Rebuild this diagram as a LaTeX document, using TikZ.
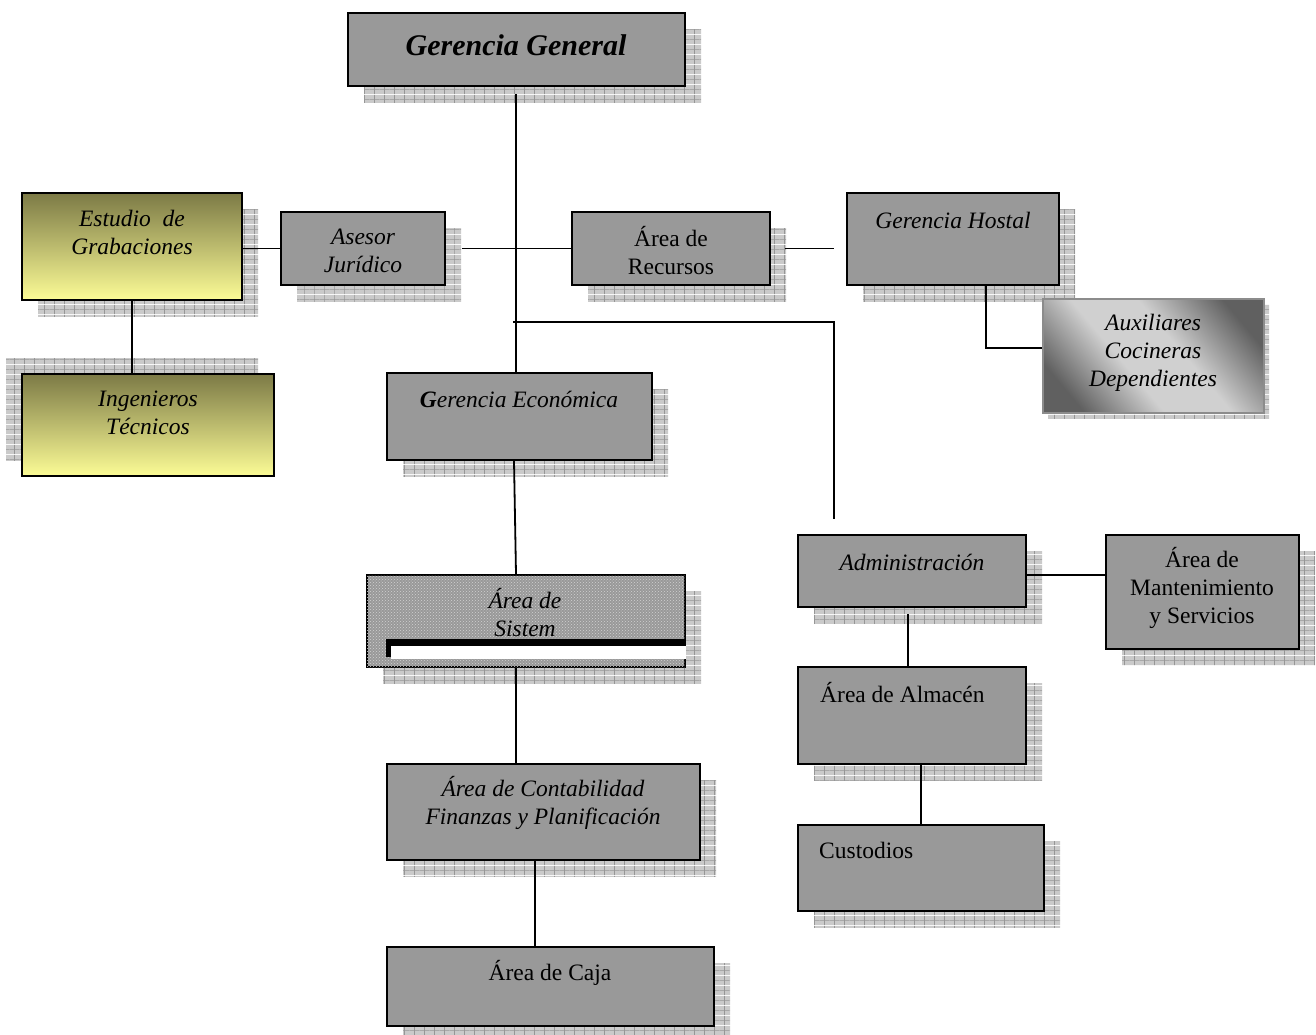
\documentclass[tikz,border=0pt]{standalone}
\usepackage{fontspec}
\setmainfont{Liberation Serif}
\usepackage{tikz}
\usetikzlibrary{calc,shadows,patterns}

\definecolor{boxgray}{RGB}{153,153,153}
\definecolor{shadowgray}{RGB}{202,202,202}
\definecolor{gridline}{RGB}{150,150,150}
\definecolor{olivetop}{RGB}{124,122,70}
\definecolor{yellowbot}{RGB}{252,252,150}
\definecolor{auxdark}{RGB}{96,96,96}
\definecolor{auxlight}{RGB}{208,208,208}

\pgfdeclarepatterninherentlycolored{shadowgrid}{\pgfpointorigin}{\pgfpoint{10pt}{10pt}}{\pgfpoint{10pt}{10pt}}{%
  \pgfsetfillcolor{shadowgray}%
  \pgfpathrectangle{\pgfpointorigin}{\pgfpoint{10pt}{10pt}}%
  \pgfusepath{fill}%
  \pgfsetstrokecolor{gridline}%
  \pgfsetlinewidth{0.7pt}%
  \pgfpathmoveto{\pgfpoint{0pt}{5pt}}\pgfpathlineto{\pgfpoint{10pt}{5pt}}%
  \pgfpathmoveto{\pgfpoint{5pt}{0pt}}\pgfpathlineto{\pgfpoint{5pt}{10pt}}%
  \pgfusepath{stroke}}

\pgfdeclarehorizontalshading{auxshade}{100bp}{color(0bp)=(auxdark); color(24bp)=(auxdark); color(42bp)=(auxlight); color(57bp)=(auxlight); color(76bp)=(auxdark); color(100bp)=(auxdark)}

\tikzset{
    unitbase/.style={draw=black, line width=2pt, fill=boxgray, inner sep=0pt},
    dept/.style={unitbase, drop shadow={shadow xshift=16pt, shadow yshift=-16pt, opacity=1, pattern=shadowgrid}},
    yellowfill/.style={top color=olivetop, bottom color=yellowbot},
    txt/.style={align=center, inner sep=0pt, font=\fontsize{23.5}{28}\selectfont},
    txtit/.style={txt, font=\fontsize{23.5}{28}\selectfont\itshape},
    link/.style={line width=1.8pt}
}

\begin{document}
\begin{tikzpicture}[x=1pt, y=-1pt]
    \useasboundingbox (0,0) rectangle (1316,1034);

    % top level
    \node[dept, minimum width=337pt, minimum height=73pt] (gg) at (516.5,49.5) {};
    \node[dept, yellowfill, minimum width=220pt, minimum height=107pt] (est) at (132,246.5) {};
    \node[unitbase, yellowfill, minimum width=252pt, minimum height=102pt,
          drop shadow={shadow xshift=-16pt, shadow yshift=16pt, opacity=1, pattern=shadowgrid}] (ing) at (148,425) {};
    \node[dept, minimum width=164pt, minimum height=73pt] (ase) at (363,248.5) {};
    \node[dept, minimum width=198pt, minimum height=73pt] (rec) at (671,248.5) {};
    \node[dept, minimum width=212pt, minimum height=92pt] (hos) at (953,239) {};
    \node[unitbase, draw=gray!90, line width=1.4pt, shade, shading=auxshade, shading angle=40,
          drop shadow={shadow xshift=5pt, shadow yshift=-5pt, opacity=1, pattern=shadowgrid},
          minimum width=221pt, minimum height=114pt] (aux) at (1153.5,356) {};

    % economia
    \node[dept, minimum width=265pt, minimum height=87pt] (ge) at (519.5,416.5) {};
    \node[dept, minimum width=318pt, minimum height=92pt,
          postaction={pattern=crosshatch dots, pattern color=gray!35}] (sis) at (526,621) {};
    \fill[black] ($(sis.north west)+(20,65)$) rectangle ($(sis.north east)+(0,72)$);
    \fill[black] ($(sis.north west)+(20,65)$) rectangle ($(sis.north west)+(25,83)$);
    \fill[white] ($(sis.north west)+(25,72)$) rectangle ($(sis.north east)+(0,85)$);
    \node[dept, minimum width=313pt, minimum height=96pt] (con) at (543.5,812) {};
    \node[dept, minimum width=327pt, minimum height=79pt] (caj) at (550.5,986.5) {};

    % administracion
    \node[dept, minimum width=228pt, minimum height=72pt] (adm) at (912,571) {};
    \node[dept, minimum width=193pt, minimum height=114pt] (man) at (1202.5,592) {};
    \node[dept, minimum width=228pt, minimum height=97pt] (alm) at (912,715.5) {};
    \node[dept, minimum width=246pt, minimum height=86pt] (cus) at (921,868) {};

    % texts
    \node[txt, font=\fontsize{30}{36}\selectfont\bfseries\itshape] (gg-t) at (516,45) {Gerencia General};
    \node[txtit] (est-t) at (132,232) {Estudio\ \ de\\Grabaciones};
    \node[txtit] (ing-t) at (148,413) {Ingenieros\\Técnicos};
    \node[txtit] (ase-t) at (363,251) {Asesor\\Jurídico};
    \node[txt] (rec-t) at (671,251) {Área de\\Recursos};
    \node[txtit] (hos-t) at (953,220) {Gerencia Hostal};
    \node[txtit] (aux-t) at (1153,353) {Auxiliares\\Cocineras\\Dependientes};
    \node[txtit] (ge-t) at (519,399) {\textbf{G}erencia Económica};
    \node[txtit] (sis-t) at (525,613) {Área de\\Sistem};
    \node[txtit] (con-t) at (543,803) {Área de Contabilidad\\Finanzas y Planificación};
    \node[txt] (caj-t) at (550,973) {Área de Caja};
    \node[txtit] (adm-t) at (912,562) {Administración};
    \node[txt] (man-t) at (1202,588) {Área de\\Mantenimiento\\y Servicios};
    \node[txt, anchor=west] (alm-t) at (820,693) {Área de Almacén};
    \node[txt, anchor=west] (cus-t) at (819,850) {Custodios};

    \coordinate (hstub) at (834,248.5);
    \coordinate (split) at (513,322);
    \coordinate (admtop) at (834,519);

    \draw[link] ($(gg.south)+(-0.5,7)$) -- ($(ge.north)+(-3.5,0)$);
    \draw[link] (ase.west) -- (ase.west -| est.east);
    \draw[link] ($(ase.east)+(16,0)$) -- (rec.west);
    \draw[link] ($(rec.east)+(14,0)$) -- (hstub);
    \draw[link] (split) -| (admtop);
    \draw[link] (est.south) -- (est.south |- ing.north);
    \draw[link] ($(hos.south)+(33,0)$) |- ($(aux.west)+(0,-8)$);
    \draw[link] ($(ge.south)+(-5.5,0)$) -- ($(sis.north)+(-10,0)$);
    \draw[link] ($(sis.south)+(-10,0)$) -- ($(con.north)+(-27.5,0)$);
    \draw[link] ($(con.south)+(-8.5,0)$) -- ($(caj.north)+(-15.5,0)$);
    \draw[link] ($(adm.east)+(0,4)$) -- ($(man.west)+(0,-17)$);
    \draw[link] ($(adm.south)+(-4,6)$) -- ($(alm.north)+(-4,0)$);
    \draw[link] ($(alm.south)+(9,0)$) -- (cus.north);
\end{tikzpicture}
\end{document}
